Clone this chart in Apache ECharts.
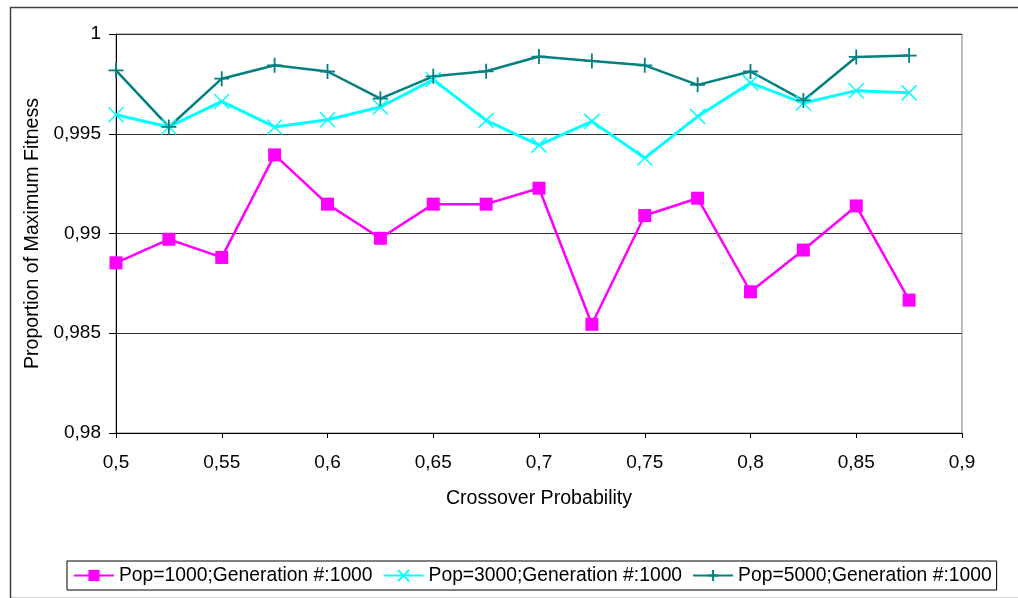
<!DOCTYPE html>
<html>
<head>
<meta charset="utf-8">
<script src="https://cdn.jsdelivr.net/npm/echarts@6/dist/echarts.min.js"></script>
<style>
html,body{margin:0;padding:0;background:#fff;}
#c{width:1018px;height:598px;}
</style>
</head>
<body>
<div id="c"></div>
<script>
const crossover = [0.5, 0.525, 0.55, 0.575, 0.6, 0.625, 0.65, 0.675, 0.7, 0.725, 0.75, 0.775, 0.8, 0.825, 0.85, 0.875];
const pop1000 = [0.98853, 0.98971, 0.98880, 0.99394, 0.99147, 0.98976, 0.99147, 0.99147, 0.99227, 0.98545, 0.99090, 0.99177, 0.98708, 0.98917, 0.99138, 0.98666];
const pop3000 = [0.99595, 0.99534, 0.99662, 0.99534, 0.99570, 0.99634, 0.99771, 0.99567, 0.99443, 0.99562, 0.99378, 0.99587, 0.99755, 0.99654, 0.99716, 0.99705];
const pop5000 = [0.99818, 0.99534, 0.99776, 0.99843, 0.99812, 0.99676, 0.99788, 0.99813, 0.99887, 0.99865, 0.99843, 0.99745, 0.99812, 0.99667, 0.99885, 0.99892];
const seriesNames = ['Pop=1000;Generation #:1000', 'Pop=3000;Generation #:1000', 'Pop=5000;Generation #:1000'];
const xTitle = 'Crossover Probability';
const yTitle = 'Proportion of Maximum Fitness';

const pair = (arr) => crossover.map((x, i) => [x, arr[i]]);
const fmt = (v) => String(parseFloat(v.toFixed(3))).replace('.', ',');
const font = '"Liberation Sans", Arial, sans-serif';
const fs = 19;
const fsBig = 19.6;

const chart = echarts.init(document.getElementById('c'), null, {renderer: 'canvas'});
chart.setOption({
  animation: false,
  backgroundColor: '#fff',
  graphic: [{
    type: 'rect', left: 8, top: 5, z: -1,
    shape: {width: 1030, height: 591},
    style: {fill: 'none', stroke: '#404040', lineWidth: 1.5}
  }],
  grid: {left: 116, right: 56, top: 34, bottom: 165, show: true, borderColor: '#808080', borderWidth: 1, backgroundColor: 'transparent'},
  xAxis: {
    type: 'value', min: 0.5, max: 0.9, interval: 0.05,
    name: xTitle, nameLocation: 'middle', nameGap: 56,
    nameTextStyle: {fontFamily: font, fontSize: fsBig, color: '#000'},
    axisLine: {show: true, onZero: false, lineStyle: {color: '#000', width: 1}},
    axisTick: {show: true, length: 5, lineStyle: {color: '#000'}},
    axisLabel: {formatter: fmt, fontFamily: font, fontSize: fs, color: '#000', margin: 20},
    splitLine: {show: false}
  },
  yAxis: {
    type: 'value', min: 0.98, max: 1, interval: 0.005,
    name: yTitle, nameLocation: 'middle', nameRotate: 90, nameGap: 73,
    nameTextStyle: {fontFamily: font, fontSize: fsBig, color: '#000'},
    axisLine: {show: true, onZero: false, lineStyle: {color: '#000', width: 1}},
    axisTick: {show: true, length: 7, lineStyle: {color: '#000'}},
    axisLabel: {formatter: fmt, fontFamily: font, fontSize: fs, color: '#000', margin: 15},
    splitLine: {show: true, lineStyle: {color: '#333', width: 1}}
  },
  legend: {
    left: 67, top: 561, width: 950,
    orient: 'horizontal',
    itemWidth: 40, itemHeight: 14, itemGap: 10,
    borderColor: '#000', borderWidth: 1, padding: [5, 5, 5, 6],
    textStyle: {fontFamily: font, fontSize: 19.3, color: '#000'},
    data: seriesNames
  },
  series: [
    {
      name: seriesNames[0], type: 'line', data: pair(pop1000),
      symbol: 'rect', symbolSize: 13,
      lineStyle: {color: '#FF00FF', width: 2.5},
      itemStyle: {color: '#FF00FF'}
    },
    {
      name: seriesNames[1], type: 'line', data: pair(pop3000),
      symbol: 'path://M0,0L10,10M10,0L0,10', symbolSize: 15,
      lineStyle: {color: '#00FFFF', width: 3},
      itemStyle: {color: 'none', borderColor: '#00FFFF', borderWidth: 1.5}
    },
    {
      name: seriesNames[2], type: 'line', data: pair(pop5000),
      symbol: 'path://M5,0L5,10M0,5L10,5', symbolSize: 15,
      lineStyle: {color: '#008080', width: 2.5},
      itemStyle: {color: 'none', borderColor: '#008080', borderWidth: 1.8}
    }
  ]
});
</script>
</body>
</html>
